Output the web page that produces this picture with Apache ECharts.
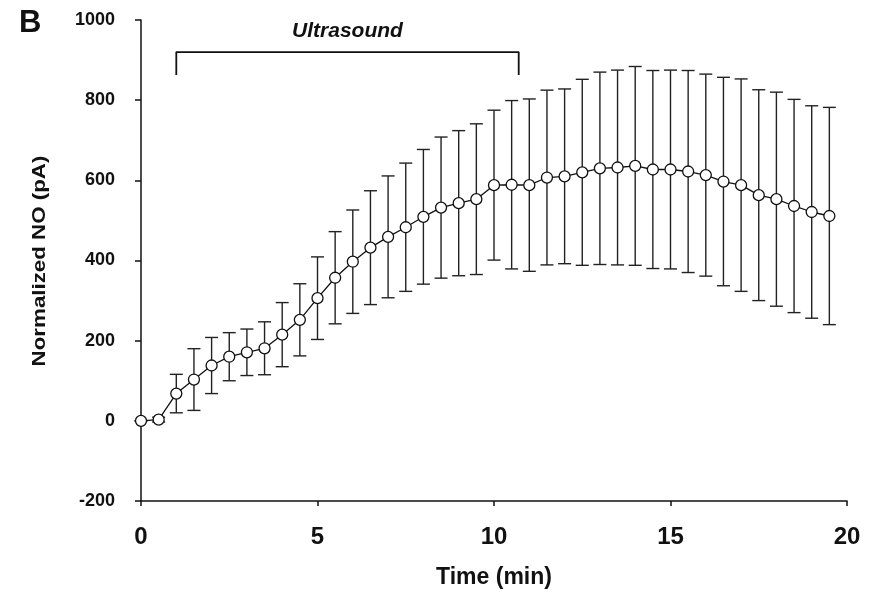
<!DOCTYPE html>
<html>
<head>
<meta charset="utf-8">
<script src="https://cdn.jsdelivr.net/npm/echarts@6/dist/echarts.min.js"></script>
<style>html,body{margin:0;padding:0;background:#fff;}#c{width:875px;height:595px;}</style>
</head>
<body>
<div id="c"></div>
<script>
const times = [0,0.5,1,1.5,2,2.5,3,3.5,4,4.5,5,5.5,6,6.5,7,7.5,8,8.5,9,9.5,10,10.5,11,11.5,12,12.5,13,13.5,14,14.5,15,15.5,16,16.5,17,17.5,18,18.5,19,19.5];
const means = [0,3,68,103,138,160,171,181,215,252,306,357,397,432,459,483,509,532,543,553,588,589,588,607,610,620,630,632,636,627,627,622,613,597,588,563,553,536,521,511];
const errs  = [0,6,48,77,70,60,58,66,80,90,103,115,129,142,152,160,168,176,181,188,187,210,215,218,218,232,240,243,248,247,248,252,252,260,265,263,267,266,265,271];
const xTicks = [0,5,10,15,20];
const yTicks = [-200,0,200,400,600,800,1000];
const bracketX = [1,1,10.7,10.7];
const bracketY = [863,920,920,863];
const bracketLabel = 'Ultrasound';
const xName = 'Time (min)';
const yName = 'Normalized NO (pA)';
const panelLabel = 'B';

const chart = echarts.init(document.getElementById('c'));
const errData = times.map((t,i)=>[t, means[i]-errs[i], means[i]+errs[i]]);
const lineData = times.map((t,i)=>[t, means[i]]);
const bracketData = bracketX.map((x,i)=>[x, bracketY[i]]);
const FONT = 'Liberation Sans, Arial, sans-serif';

chart.setOption({
  animation:false,
  backgroundColor:'#fff',
  grid:{left:141,right:28,top:20,bottom:94},
  xAxis:{
    type:'value', min:0, max:20, interval:5,
    name:xName, nameLocation:'middle', nameGap:65,
    nameTextStyle:{fontFamily:FONT,fontWeight:'bold',fontSize:23,color:'#111'},
    axisLine:{onZero:false,lineStyle:{color:'#111',width:1.5}},
    axisTick:{show:true,length:5,lineStyle:{color:'#111',width:1.5}},
    axisLabel:{fontFamily:FONT,fontWeight:'bold',fontSize:24,color:'#111',margin:24},
    splitLine:{show:false}
  },
  yAxis:{
    type:'value', min:-200, max:1000, interval:200,
    axisLine:{show:true,lineStyle:{color:'#111',width:1.5}},
    axisTick:{show:true,length:6,lineStyle:{color:'#111',width:1.5}},
    axisLabel:{fontFamily:FONT,fontWeight:'bold',fontSize:18,color:'#111',margin:26,formatter:function(v){return String(v);}},
    splitLine:{show:false}
  },
  graphic:[
    {type:'text',left:19,top:8,style:{text:panelLabel,font:'bold 31px '+FONT,fill:'#111'}},
    {type:'text',x:40,y:261,rotation:Math.PI/2,scaleX:1.24,
     style:{text:yName,font:'bold 18px '+FONT,fill:'#111',align:'center',verticalAlign:'middle'}}
  ],
  series:[
    {
      type:'custom', z:1,
      data:errData,
      renderItem:function(params,api){
        const x=api.value(0), lo=api.value(1), hi=api.value(2);
        const p1=api.coord([x,lo]), p2=api.coord([x,hi]);
        const hw=6.5;
        const st={stroke:'#222',lineWidth:1.4};
        return {type:'group',children:[
          {type:'line',shape:{x1:p1[0],y1:p1[1],x2:p2[0],y2:p2[1]},style:st},
          {type:'line',shape:{x1:p1[0]-hw,y1:p1[1],x2:p1[0]+hw,y2:p1[1]},style:st},
          {type:'line',shape:{x1:p2[0]-hw,y1:p2[1],x2:p2[0]+hw,y2:p2[1]},style:st}
        ]};
      }
    },
    {
      type:'line', z:3, data:lineData,
      symbol:'circle', symbolSize:11,
      lineStyle:{color:'#111',width:1.3},
      itemStyle:{color:'#fff',borderColor:'#111',borderWidth:1.3}
    },
    {
      type:'line', z:2, data:bracketData, symbol:'none',
      lineStyle:{color:'#111',width:1.8},
      markPoint:{
        symbol:'rect', symbolSize:[1,1], itemStyle:{color:'transparent'},
        data:[{coord:[(bracketX[0]+bracketX[2])/2, 973], label:{show:true,formatter:bracketLabel,fontFamily:FONT,fontWeight:'bold',fontStyle:'italic',fontSize:21,color:'#111'}}]
      }
    }
  ]
});
</script>
</body>
</html>
